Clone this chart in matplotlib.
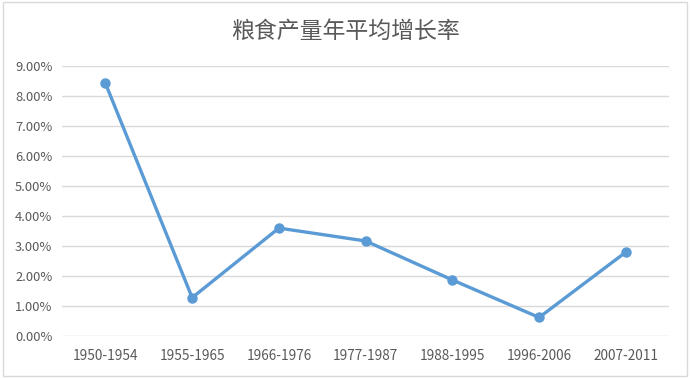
import matplotlib
matplotlib.use("Agg")
import matplotlib.pyplot as plt
from matplotlib.ticker import FuncFormatter, MultipleLocator
from matplotlib.patches import Rectangle

plt.rcParams['font.family'] = ['Noto Sans CJK SC', 'DejaVu Sans']

periods = ['1950-1954', '1955-1965', '1966-1976', '1977-1987',
           '1988-1995', '1996-2006', '2007-2011']
growth = [0.0843, 0.0128, 0.0360, 0.0317, 0.0187, 0.0062, 0.0280]

fig = plt.figure(figsize=(6.9, 3.78), dpi=100)
ax = fig.add_axes([0.0899, 0.111, 0.880, 0.714])

x = list(range(len(periods)))
ax.plot(x, growth, color='#5B9BD5', lw=2.4, marker='o', ms=6.5,
        solid_capstyle='round', zorder=3)

ax.set_xlim(-0.5, len(periods) - 0.5)
ax.set_ylim(0, 0.09)
ax.yaxis.set_major_locator(MultipleLocator(0.01))
ax.yaxis.set_major_formatter(FuncFormatter(lambda v, p: f'{v * 100:.2f}%'))
ax.set_xticks(x)
ax.set_xticklabels(periods)

ax.grid(axis='y', color='#D9D9D9', lw=1)
ax.set_axisbelow(True)
for s in ax.spines.values():
    s.set_visible(False)
ax.tick_params(axis='y', length=0, labelsize=9.3, colors='#595959', pad=7)
ax.tick_params(axis='x', length=0, labelsize=9.8, colors='#595959', pad=9)

fig.text(0.5, 0.918, '粮食产量年平均增长率', ha='center', va='center',
         fontsize=16.5, fontweight='light', color='#595959')

fig.patches.append(Rectangle((0.004, 0.004), 0.992, 0.99, transform=fig.transFigure,
                             fill=False, edgecolor='#D9D9D9', lw=1))

fig.savefig('out.png', dpi=100)
